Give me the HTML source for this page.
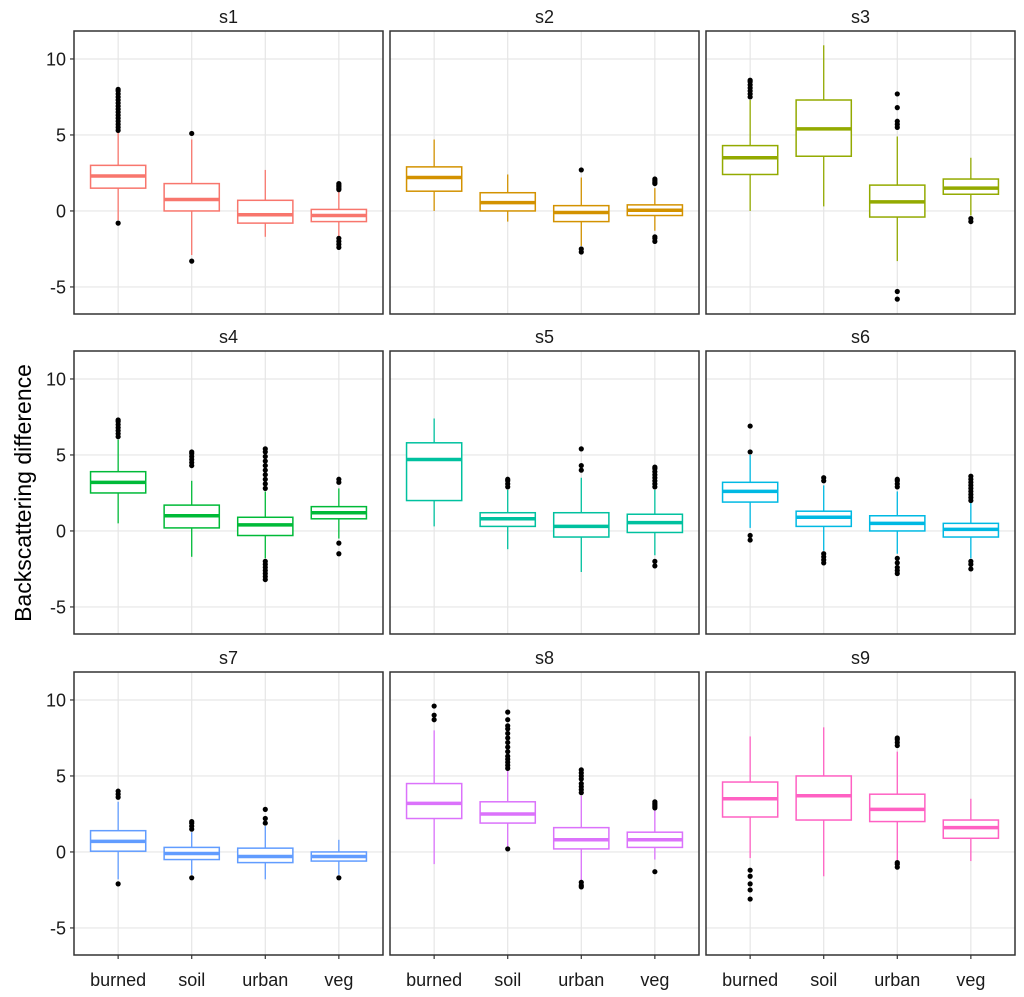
<!DOCTYPE html>
<html><head><meta charset="utf-8"><style>
html,body{margin:0;padding:0;background:#fff}
svg{display:block;font-family:"Liberation Sans",Arial,sans-serif}
</style></head><body>
<svg id="chart" width="1024" height="997" viewBox="0 0 1024 997"></svg>
<script>
const categories = ["burned","soil","urban","veg"];
const panelNames = ["s1","s2","s3","s4","s5","s6","s7","s8","s9"];
const colors = ["#F8766D","#D39200","#93AA00","#00BA38","#00C19F","#00B9E3","#619CFF","#DB72FB","#FF61C3"];
const yTicks = [-5,0,5,10];
// [lowerWhisker, q1, median, q3, upperWhisker] per panel per category
const boxStats = [
 [[-0.6,1.5,2.3,3.0,5.2],[-2.9,0,0.75,1.8,4.7],[-1.7,-0.8,-0.25,0.7,2.7],[-1.8,-0.7,-0.3,0.1,1.3]],
 [[0.0,1.3,2.2,2.9,4.7],[-0.7,0,0.55,1.2,2.4],[-2.3,-0.7,-0.1,0.35,2.2],[-1.3,-0.3,0.05,0.4,1.5]],
 [[0.0,2.4,3.5,4.3,7.3],[0.3,3.6,5.4,7.3,10.9],[-3.3,-0.4,0.6,1.7,4.9],[-0.3,1.1,1.5,2.1,3.5]],
 [[0.5,2.5,3.2,3.9,6.0],[-1.7,0.2,1.0,1.7,3.3],[-1.8,-0.3,0.4,0.9,2.6],[-0.5,0.8,1.2,1.6,2.8]],
 [[0.3,2.0,4.7,5.8,7.4],[-1.2,0.3,0.8,1.2,2.7],[-2.7,-0.4,0.3,1.2,3.5],[-1.6,-0.1,0.55,1.1,2.7]],
 [[0.2,1.9,2.6,3.2,5.0],[-1.3,0.3,0.9,1.3,3.0],[-1.5,0.0,0.5,1.0,2.6],[-1.8,-0.4,0.1,0.5,1.9]],
 [[-1.8,0.05,0.7,1.4,3.3],[-1.5,-0.5,-0.1,0.3,1.3],[-1.8,-0.7,-0.3,0.25,1.7],[-1.5,-0.6,-0.3,0.0,0.8]],
 [[-0.8,2.2,3.2,4.5,8.0],[0.3,1.9,2.5,3.3,5.4],[-1.9,0.2,0.8,1.6,3.7],[-0.5,0.3,0.8,1.3,2.8]],
 [[-0.4,2.3,3.5,4.6,7.6],[-1.6,2.1,3.7,5.0,8.2],[-0.6,2.0,2.8,3.8,6.6],[-0.6,0.9,1.6,2.1,3.5]]
];
const outliers = [
 [[-0.8,5.3,5.5,5.7,5.9,6.1,6.3,6.5,6.7,6.9,7.1,7.3,7.5,7.7,7.9,8.0],[5.1,-3.3],[],[1.4,1.5,1.6,1.7,1.8,-1.8,-2.0,-2.2,-2.4]],
 [[],[],[2.7,-2.5,-2.7],[1.8,1.9,2.0,2.1,-1.7,-1.8,-2.0]],
 [[7.5,7.7,7.9,8.1,8.3,8.5,8.6],[],[5.5,5.7,5.9,6.8,7.7,-5.3,-5.8],[-0.5,-0.7]],
 [[6.2,6.4,6.6,6.8,7.0,7.2,7.3],[4.3,4.5,4.7,4.9,5.1,5.2],[2.8,3.1,3.4,3.7,4.0,4.3,4.6,4.9,5.2,5.4,-2.0,-2.2,-2.4,-2.6,-2.8,-3.0,-3.2],[3.2,3.4,-0.8,-1.5]],
 [[],[2.9,3.1,3.3,3.4],[4.0,4.3,5.4],[2.9,3.1,3.3,3.5,3.7,3.9,4.1,4.2,-2.0,-2.3]],
 [[5.2,6.9,-0.3,-0.6],[3.3,3.5,-1.5,-1.7,-1.9,-2.1],[2.9,3.1,3.3,3.4,-1.8,-2.1,-2.4,-2.6,-2.8],[2.0,2.2,2.4,2.6,2.8,3.0,3.2,3.4,3.6,-2.0,-2.2,-2.5]],
 [[3.6,3.8,4.0,-2.1],[1.5,1.7,1.9,2.0,-1.7],[1.9,2.2,2.8],[-1.7]],
 [[8.7,9.0,9.6],[0.2,5.5,5.7,5.9,6.1,6.3,6.6,6.9,7.2,7.5,7.8,8.1,8.3,8.7,9.2],[3.9,4.1,4.3,4.5,4.8,5.0,5.2,5.4,-2.0,-2.2,-2.3],[2.9,3.0,3.1,3.2,3.3,-1.3]],
 [[-1.2,-1.6,-2.1,-2.5,-3.1],[],[7.0,7.2,7.4,7.5,-0.7,-0.8,-1.0],[]]
];
const NS="http://www.w3.org/2000/svg";
const svg=document.getElementById('chart');
function mk(tag,attrs,parent){const e=document.createElementNS(NS,tag);for(const k in attrs)e.setAttribute(k,attrs[k]);(parent||svg).appendChild(e);return e;}
const colX=[74,390,706], panelW=309;
const rowY=[31,351,672], panelH=283;
const yMin=-6.78, yMax=11.84;
function yScale(row,v){return rowY[row]+panelH*(yMax-v)/(yMax-yMin);}
function xScale(col,i){const u=panelW/4.2;return colX[col]+(0.6+i)*u;}
const boxW=0.75*panelW/4.2;
for(let p=0;p<9;p++){
  const r=Math.floor(p/3), c=p%3, x0=colX[c], y0=rowY[r], col=colors[p];
  const g=mk('g',{});
  
  
  const st=mk('text',{x:x0+panelW/2,y:y0-8,'text-anchor':'middle','font-size':18,fill:'#1a1a1a'},g);
  st.textContent=panelNames[p];
  
  
  yTicks.forEach(t=>{const y=yScale(r,t);mk('line',{x1:x0,x2:x0+panelW,y1:y,y2:y,stroke:'#e6e6e6','stroke-width':1.2},g);});
  categories.forEach((cat,i)=>{const x=xScale(c,i);mk('line',{x1:x,x2:x,y1:y0,y2:y0+panelH,stroke:'#e6e6e6','stroke-width':1.2},g);});
  categories.forEach((cat,i)=>{
    const s=boxStats[p][i], x=xScale(c,i);
    const bg=mk('g',{},g);
    
    
    mk('line',{x1:x,x2:x,y1:yScale(r,s[0]),y2:yScale(r,s[1]),stroke:col,'stroke-width':1.3},bg);
    mk('line',{x1:x,x2:x,y1:yScale(r,s[3]),y2:yScale(r,s[4]),stroke:col,'stroke-width':1.3},bg);
    mk('rect',{x:x-boxW/2,y:yScale(r,s[3]),width:boxW,height:yScale(r,s[1])-yScale(r,s[3]),fill:'#fff',stroke:col,'stroke-width':1.5},bg);
    mk('line',{x1:x-boxW/2,x2:x+boxW/2,y1:yScale(r,s[2]),y2:yScale(r,s[2]),stroke:col,'stroke-width':3.5},bg);
    outliers[p][i].forEach(v=>{mk('circle',{cx:x,cy:yScale(r,v),r:2.6,fill:'#000'},bg);});
  });
  mk('rect',{x:x0,y:y0,width:panelW,height:panelH,fill:'none',stroke:'#333','stroke-width':1.5},g);
  if(c===0){
    yTicks.forEach(t=>{const y=yScale(r,t);
      mk('line',{x1:x0-4,x2:x0,y1:y,y2:y,stroke:'#333','stroke-width':1.2},g);
      const tl=mk('text',{x:x0-8,y:y+6.5,'text-anchor':'end','font-size':18,fill:'#1a1a1a'},g);
      tl.textContent=t;
      
      
    });
  }
  if(r===2){
    categories.forEach((cat,i)=>{const x=xScale(c,i);
      mk('line',{x1:x,x2:x,y1:y0+panelH,y2:y0+panelH+4,stroke:'#333','stroke-width':1.2},g);
      const tl=mk('text',{x:x,y:986,'text-anchor':'middle','font-size':18,fill:'#1a1a1a'},g);
      tl.textContent=cat;
      
      
    });
  }
}
const yt=mk('text',{x:0,y:0,transform:'translate(31,493) rotate(-90)','text-anchor':'middle','font-size':23,fill:'#000'});
yt.textContent='Backscattering difference';


</script>
</body></html>
